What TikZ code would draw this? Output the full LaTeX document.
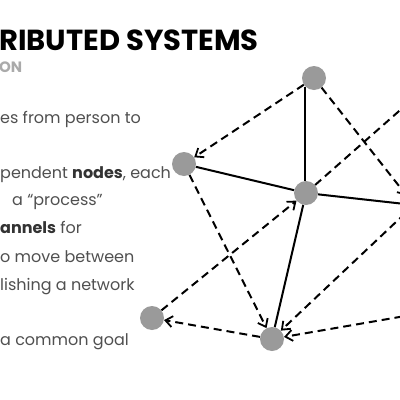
\documentclass[tikz,border=0pt]{standalone}
\usepackage{fontspec}
\setmainfont{Poppins}
\usetikzlibrary{arrows.meta}
\definecolor{nodegray}{HTML}{9A9A9A}
\definecolor{bodygray}{HTML}{505050}
\definecolor{subgray}{HTML}{AAAAAA}
\tikzset{
  proc/.style={circle, fill=nodegray, minimum size=24pt, inner sep=0pt},
  link/.style={line width=2pt, black},
  msg/.style={line width=2pt, black, dash pattern=on 8pt off 5pt, -{Straight Barb[length=7pt,width=11pt,line width=1.8pt]}},
  msgplain/.style={line width=2pt, black, dash pattern=on 8pt off 5pt},
  body/.style={anchor=base west, inner sep=0pt, text=bodygray, font=\fontsize{16}{18}\selectfont},
}
\begin{document}
\begin{tikzpicture}[x=1pt, y=-1pt]
\useasboundingbox (0,0) rectangle (400,400);
\clip (0,0) rectangle (400,400);
\fill[white] (0,0) rectangle (400,400);
% title
\node[anchor=base west, inner sep=0pt, font=\fontsize{29}{32}\selectfont\bfseries] (title) at (-1,50) {RIBUTED SYSTEMS};
\node[anchor=base west, inner sep=0pt, text=subgray, font=\fontsize{15}{17}\selectfont\bfseries] (sub) at (-1,72) {ON};
% body text
\node[body] (t1) at (0,123) {es from person to};
\node[body] (t2) at (0,178) {pendent \textbf{\color{black!80}nodes}, each};
\node[body] (t3) at (12,205) {a “process”};
\node[body] (t4) at (0,233) {\textbf{\color{black!80}annels} for};
\node[body] (t5) at (0,262) {o move between};
\node[body] (t6) at (0,290) {lishing a network};
\node[body] (t7) at (0,345) {a common goal};
% process nodes
\node[proc] (A) at (314,78) {};
\node[proc] (B) at (184,164) {};
\node[proc] (C) at (306,193) {};
\node[proc] (D) at (152,318) {};
\node[proc] (E) at (272,339) {};
\node[proc] (R) at (414,205) {};
\node[proc] (R2) at (440,75) {};
\node[proc] (R3) at (440,310) {};
% solid links
\draw[link] (A.south west) -- (A.south west |- C.north);
\draw[link] (B) -- (C);
\draw[link] (C) -- (R);
\draw[link] (C) -- (E);
% dashed messages
\draw[msg] (A) -- (B);
\draw[msg] (A) -- (R);
\draw[msg] (B) -- (E);
\draw[msg] (D) -- (C);
\draw[msgplain] (C) -- (R2);
\draw[msg] (E) -- (D);
\draw[msg] (R) -- (E);
\draw[msg] (R3) -- (E);
\end{tikzpicture}
\end{document}
